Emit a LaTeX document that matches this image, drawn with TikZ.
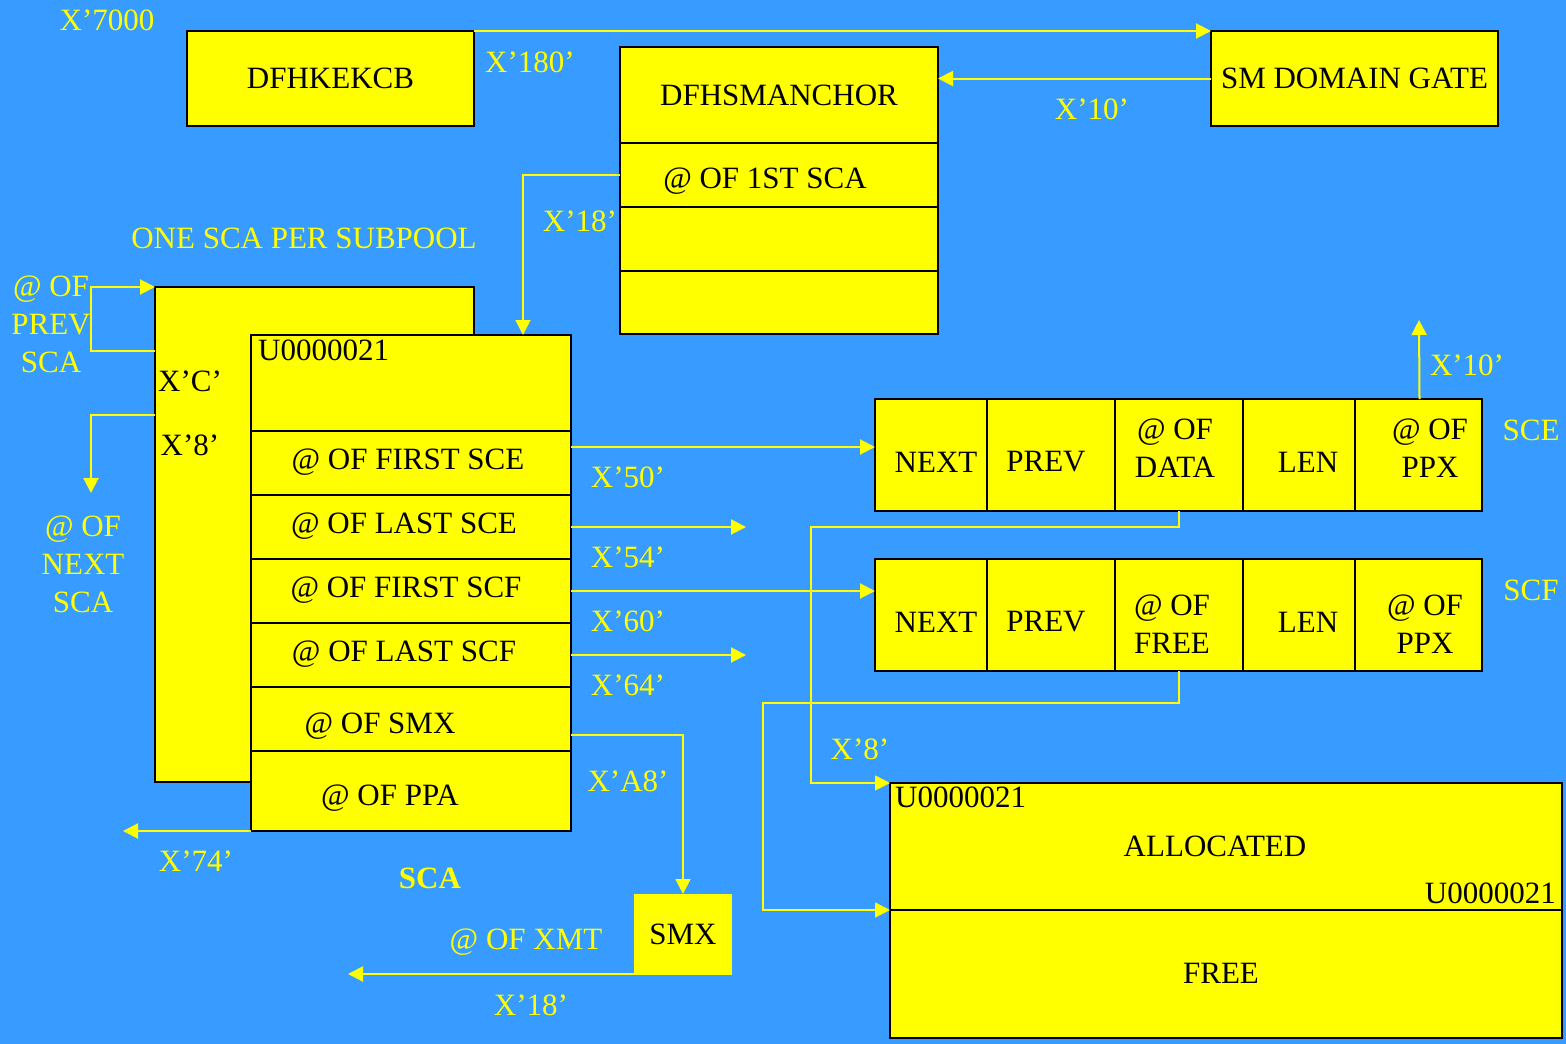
\documentclass[tikz,border=0pt]{standalone}
\usepackage{fontspec}
\setmainfont{Liberation Serif}
\usetikzlibrary{arrows.meta}
\definecolor{bg}{RGB}{55,155,255}
\definecolor{yel}{RGB}{255,255,0}
\newcommand\bigf{\fontsize{31}{38}\selectfont}
\begin{document}
\begin{tikzpicture}[x=1pt,y=-1pt,
  box/.style={draw=black,line width=2.2pt,fill=yel,anchor=north west,inner sep=0pt,outer sep=0pt,font=\bigf,text=black,align=center},
  lab/.style={text=yel,font=\bigf,inner sep=0pt,align=center},
  blab/.style={text=black,font=\bigf,inner sep=0pt,align=center},
  conn/.style={draw=yel,line width=2pt},
  arr/.style={conn,-{Triangle[length=15pt,width=15pt]}},
  thinarr/.style={draw=yel,line width=1.6pt,-{Triangle[length=15pt,width=15pt]}}]
\fill[bg] (0,0) rectangle (1566,1044);
\useasboundingbox (0,0) rectangle (1566,1044);

% top boxes
\node[box,minimum width=287pt,minimum height=95pt] (kekcb) at (187,31) {DFHKEKCB};
\node[box,minimum width=287pt,minimum height=95pt] (smgate) at (1211,31) {SM DOMAIN GATE};
\node[box,minimum width=318pt,minimum height=96pt] (anchH) at (620,47) {DFHSMANCHOR};
\node[box,minimum width=318pt,minimum height=64pt] (anchR1) at (620,143) {};
\node[box,minimum width=318pt,minimum height=64pt] (anchR2) at (620,207) {};
\node[box,minimum width=318pt,minimum height=63pt] (anchR3) at (620,271) {};
\node[blab] (anchR1t) at (765,181) {@ OF 1ST SCA};

% SCA boxes
\node[box,minimum width=319pt,minimum height=495pt] (scaback) at (155,287) {};
\node[box,minimum width=320pt,minimum height=96pt] (scaH) at (251,335) {};
\node[box,minimum width=320pt,minimum height=64pt] (scaR1) at (251,431) {};
\node[box,minimum width=320pt,minimum height=64pt] (scaR2) at (251,495) {};
\node[box,minimum width=320pt,minimum height=64pt] (scaR3) at (251,559) {};
\node[box,minimum width=320pt,minimum height=64pt] (scaR4) at (251,623) {};
\node[box,minimum width=320pt,minimum height=64pt] (scaR5) at (251,687) {};
\node[box,minimum width=320pt,minimum height=80pt] (scaR6) at (251,751) {};
\node[blab] (scaR1t) at (408,462) {@ OF FIRST SCE};
\node[blab] (scaR2t) at (404,526) {@ OF LAST SCE};
\node[blab] (scaR3t) at (406,590) {@ OF FIRST SCF};
\node[blab] (scaR4t) at (404,654) {@ OF LAST SCF};
\node[blab,anchor=west] (scaU) at (258,350) {U0000021};
\node[blab] (smxtxt) at (380,726) {@ OF SMX};
\node[blab] (ppatxt) at (390,798) {@ OF PPA};
\node[blab] (xc) at (190,381) {X’C’};
\node[blab] (x8) at (190,445) {X’8’};

% SMX
\node[box,draw=none,minimum width=98pt,minimum height=81pt] (smx) at (634,894) {SMX};

% SCE cells
\node[box,minimum width=112pt,minimum height=112pt] (sceA) at (875,399) {};
\node[box,minimum width=128pt,minimum height=112pt] (sceB) at (987,399) {};
\node[box,minimum width=128pt,minimum height=112pt] (sceC) at (1115,399) {};
\node[box,minimum width=112pt,minimum height=112pt] (sceD) at (1243,399) {};
\node[box,minimum width=127pt,minimum height=112pt] (sceE) at (1355,399) {};
\node[blab] (sceAt) at (936,462) {NEXT};
\node[blab] (sceBt) at (1046,462) {PREV};
\node[blab] (sceCt) at (1175,448) {@ OF\\DATA};
\node[blab] (sceDt) at (1308,462) {LEN};
\node[blab] (sceEt) at (1430,448) {@ OF\\PPX};
% SCF cells
\node[box,minimum width=112pt,minimum height=112pt] (scfA) at (875,559) {};
\node[box,minimum width=128pt,minimum height=112pt] (scfB) at (987,559) {};
\node[box,minimum width=128pt,minimum height=112pt] (scfC) at (1115,559) {};
\node[box,minimum width=112pt,minimum height=112pt] (scfD) at (1243,559) {};
\node[box,minimum width=127pt,minimum height=112pt] (scfE) at (1355,559) {};
\node[blab] (scfAt) at (936,622) {NEXT};
\node[blab] (scfBt) at (1046,622) {PREV};
\node[blab] (scfCt) at (1172,624) {@ OF\\FREE};
\node[blab] (scfDt) at (1308,622) {LEN};
\node[blab] (scfEt) at (1425,624) {@ OF\\PPX};

% storage
\node[box,minimum width=672pt,minimum height=127pt] (alloc) at (890,783) {};
\node[box,minimum width=672pt,minimum height=128pt] (free) at (890,910) {};
\node[blab] (alloct) at (1215,846) {ALLOCATED};
\node[blab] (freet) at (1221,973) {FREE};
\node[blab,anchor=west] (allocU1) at (895,797) {U0000021};
\node[blab,anchor=east] (allocU2) at (1556,893) {U0000021};

% labels
\node[lab] (l7000) at (107,20) {X’7000};
\node[lab] (l180) at (530,62) {X’180’};
\node[lab] (l10a) at (1092,109) {X’10’};
\node[lab] (l18a) at (580,221) {X’18’};
\node[lab] (lone) at (304,238) {ONE SCA PER SUBPOOL};
\node[lab] (lprev) at (51,324) {@ OF\\PREV\\SCA};
\node[lab] (lnext) at (83,564) {@ OF\\NEXT\\SCA};
\node[lab] (l50) at (628,477) {X’50’};
\node[lab] (l54) at (628,557) {X’54’};
\node[lab] (l60) at (628,621) {X’60’};
\node[lab] (l64) at (628,685) {X’64’};
\node[lab] (lA8) at (628,781) {X’A8’};
\node[lab] (l74) at (196,861) {X’74’};
\node[lab,font=\bigf\bfseries] (lsca) at (430,878) {SCA};
\node[lab] (lxmt) at (526,942) {@ OF XMT};
\node[lab] (l18b) at (531,1005) {X’18’};
\node[lab] (lsce) at (1531,430) {SCE};
\node[lab] (lscf) at (1531,590) {SCF};
\node[lab] (l10b) at (1467,365) {X’10’};
\node[lab] (l8) at (860,749) {X’8’};

% coordinates
\coordinate (scatop) at (523,335);
\coordinate (prevout) at (155,351);
\coordinate (prevbend) at (91,351);
\coordinate (nextout) at (155,415);
\coordinate (nextend) at (91,493);
\coordinate (e54) at (746,527);
\coordinate (e64) at (746,655);
\coordinate (ppaend) at (123,831);
\coordinate (xmtstart) at (650,974);
\coordinate (xmtend) at (348,974);
\coordinate (ppxup) at (1419,320);
\coordinate (d1) at (811,527);
\coordinate (f1) at (763,703);

% connectors
\draw[arr] (kekcb.north east) -- (smgate.north west);
\draw[arr] (smgate.west) -- (smgate.west -| anchH.east);
\draw[thinarr] (anchR1.west) -| (scatop);
\draw[arr] (prevout) -- (prevbend) |- (scaback.north west);
\draw[arr] (nextout) -| (nextend);
\draw[arr] ([yshift=16pt]scaR1.east) -- ([yshift=16pt]scaR1.east -| sceA.west);
\draw[arr] (scaR2.east) -- (scaR2.east -| e54);
\draw[arr] (scaR3.east) -- (scaR3.east -| scfA.west);
\draw[arr] (scaR4.east) -- (scaR4.east -| e64);
\draw[thinarr] ([yshift=-16pt]scaR5.east) -| (smx.north);
\draw[arr] (scaR6.south west) -- (scaR6.south west -| ppaend);
\draw[arr] (xmtstart) -- (xmtend);
\draw[arr] ([xshift=1pt]sceE.north) -- (ppxup);
\draw[thinarr] (sceC.south) |- (d1) |- (alloc.north west);
\draw[thinarr] (scfC.south) |- (f1) |- (free.north west);
\end{tikzpicture}
\end{document}
